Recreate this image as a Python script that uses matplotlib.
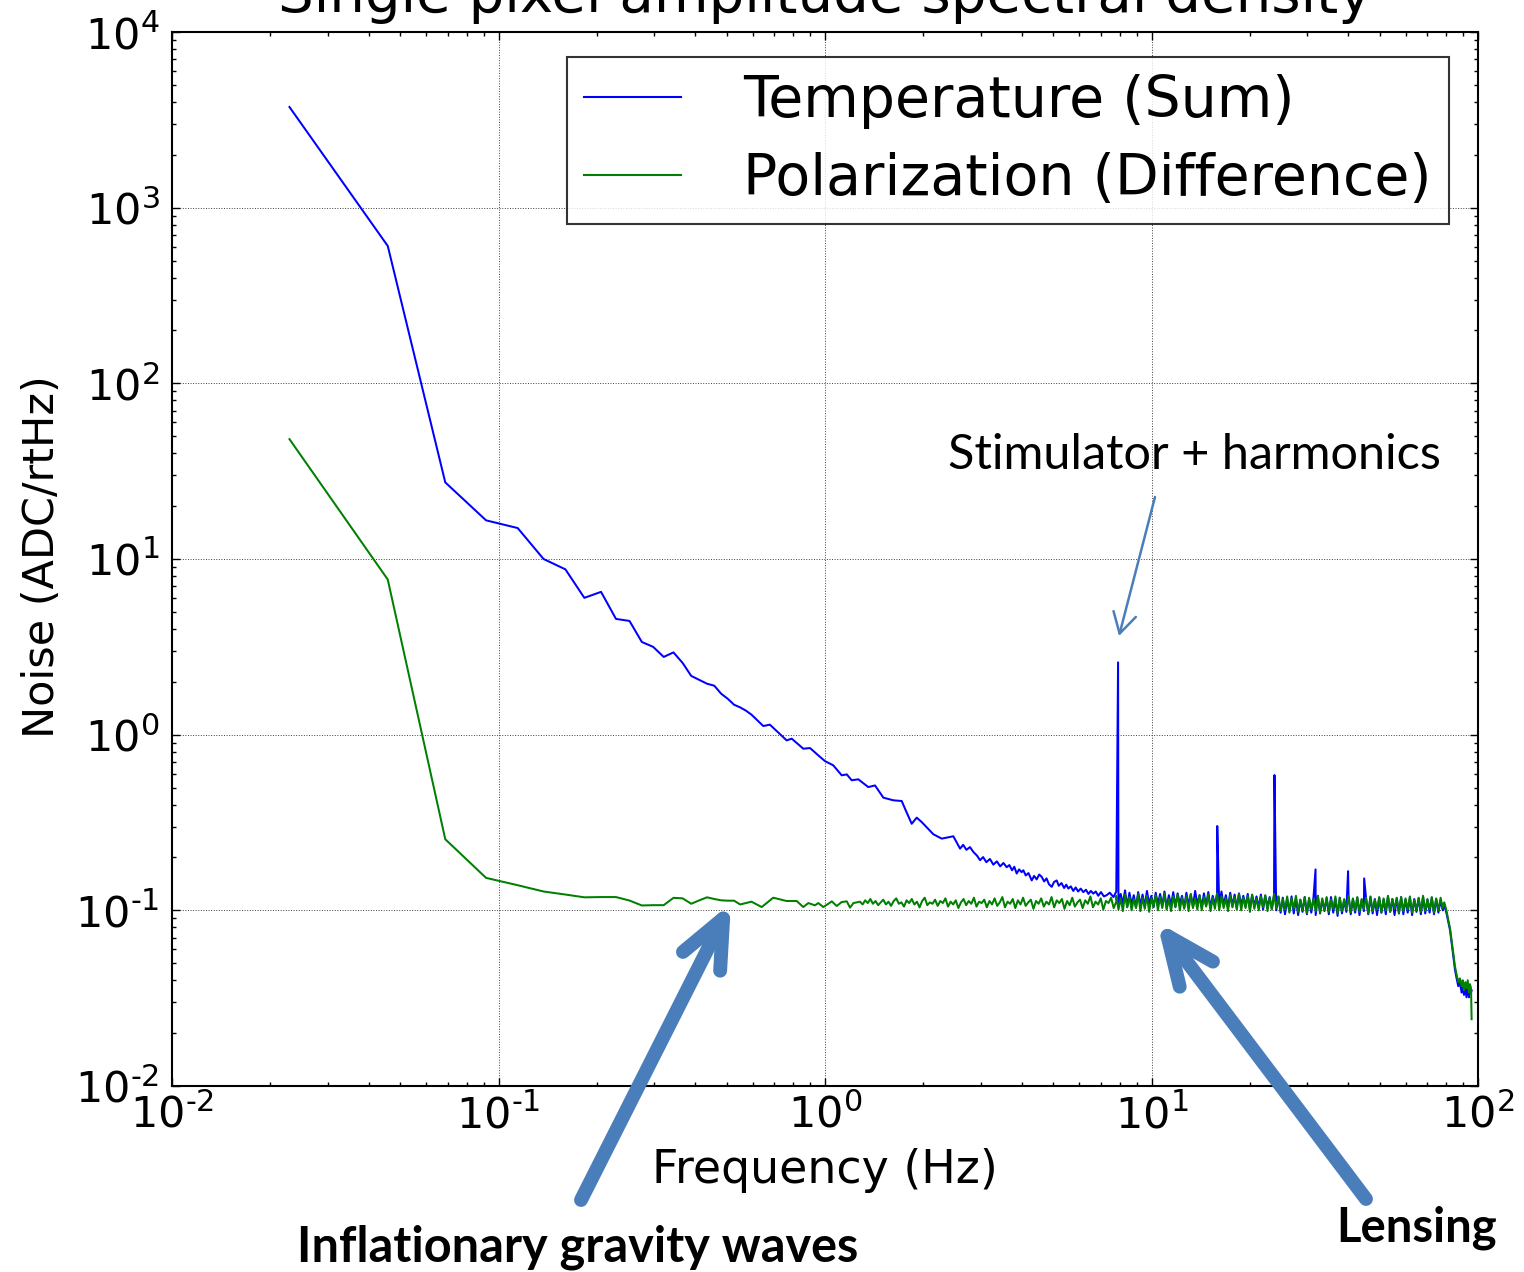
import numpy as np
import matplotlib
matplotlib.use("Agg")
import matplotlib.pyplot as plt
from matplotlib.ticker import LogLocator, FuncFormatter
from matplotlib.patches import FancyArrowPatch

plt.rcParams['axes.unicode_minus'] = False
plt.rcParams['font.family'] = ['DejaVu Sans']

# ---------------- data ----------------
low_freq = [0.0229, 0.0458, 0.0687, 0.0916, 0.1145, 0.1374, 0.1603, 0.1832, 0.2061, 0.229,
            0.2519, 0.2748, 0.2977, 0.3206, 0.3435, 0.3664, 0.3893, 0.4122, 0.4351, 0.458,
            0.4809, 0.5038, 0.5267, 0.5496, 0.5725, 0.5954]
temp_low = [3741, 605, 27.3, 16.6, 15.0, 10.0, 8.73, 6.01, 6.50, 4.56,
            4.44, 3.37, 3.16, 2.77, 2.94, 2.56, 2.16, 2.05, 1.95, 1.90,
            1.71, 1.60, 1.48, 1.43, 1.37, 1.30]
pol_low = [48.1, 7.64, 0.254, 0.153, 0.139, 0.128, 0.123, 0.1186, 0.119, 0.119,
           0.1137, 0.1066, 0.107, 0.107, 0.1178, 0.117, 0.109, 0.114, 0.1186, 0.116,
           0.114, 0.1135, 0.1135, 0.108, 0.110, 0.112]

temp_mid_freq = [0.647, 0.678, 0.763, 0.791, 0.858, 0.900, 0.954, 1.000, 1.060, 1.125,
                 1.166, 1.207, 1.265, 1.357, 1.423, 1.509, 1.619, 1.718, 1.758, 1.843,
                 1.910, 1.978, 2.147, 2.278, 2.472, 2.592, 2.65, 2.71, 2.78, 2.847,
                 2.92, 2.984, 3.05, 3.12, 3.20, 3.278, 3.36, 3.44, 3.52, 3.602,
                 3.67, 3.74, 3.80, 3.865, 3.93, 4.00, 4.05, 4.12, 4.20, 4.297,
                 4.37, 4.45, 4.53, 4.61, 4.69, 4.77, 4.85, 4.947, 5.03, 5.124,
                 5.20, 5.30, 5.40, 5.48, 5.564, 5.66, 5.76, 5.86, 5.96, 6.07,
                 6.182, 6.30, 6.41, 6.52, 6.633, 6.75, 6.87, 7.00, 7.15, 7.292,
                 7.45, 7.65]
temp_mid = [1.12, 1.14, 0.928, 0.949, 0.832, 0.839, 0.762, 0.707, 0.669, 0.587,
            0.594, 0.550, 0.557, 0.503, 0.514, 0.438, 0.423, 0.419, 0.379, 0.311,
            0.337, 0.318, 0.271, 0.256, 0.264, 0.2245, 0.236, 0.221, 0.229, 0.215,
            0.205, 0.193, 0.201, 0.188, 0.196, 0.182, 0.190, 0.178, 0.186, 0.176,
            0.181, 0.169, 0.177, 0.162, 0.171, 0.165, 0.169, 0.158, 0.163, 0.148,
            0.157, 0.150, 0.160, 0.155, 0.146, 0.152, 0.141, 0.136, 0.145, 0.148,
            0.138, 0.143, 0.134, 0.140, 0.133, 0.137, 0.129, 0.135, 0.128, 0.133,
            0.127, 0.131, 0.124, 0.129, 0.1245, 0.128, 0.121, 0.127, 0.120, 0.122,
            0.126, 0.119]

pol_mid_freq = [0.640, 0.694, 0.763, 0.819, 0.858, 0.889, 0.932, 0.954, 0.988, 1.024,
                1.049, 1.086, 1.125, 1.166, 1.193, 1.222]
pol_mid = [0.1044, 0.118, 0.113, 0.113, 0.1044, 0.110, 0.1068, 0.110, 0.1044, 0.109,
           0.1125, 0.1058, 0.1115, 0.1125, 0.1036, 0.110]

# polarization trace from 1.28 Hz to 7.8 Hz (evenly spaced on the log axis)
pol_mid2_range = (1.28, 7.8)
pol_mid2 = [0.112, 0.108, 0.114, 0.110, 0.116, 0.109, 0.113, 0.107, 0.111, 0.115,
            0.108, 0.112, 0.106, 0.113, 0.117, 0.109, 0.111, 0.105, 0.114, 0.110,
            0.116, 0.108, 0.112, 0.104, 0.113, 0.118, 0.107, 0.111, 0.109, 0.115,
            0.106, 0.113, 0.110, 0.117, 0.105, 0.112, 0.108, 0.114, 0.103, 0.111,
            0.116, 0.107, 0.113, 0.109, 0.118, 0.105, 0.112, 0.110, 0.115, 0.104,
            0.113, 0.108, 0.117, 0.106, 0.111, 0.119, 0.104, 0.112, 0.109, 0.116,
            0.103, 0.114, 0.108, 0.118, 0.106, 0.111, 0.115, 0.102, 0.113, 0.109,
            0.117, 0.105, 0.112, 0.108, 0.119, 0.104, 0.114, 0.110, 0.116, 0.102,
            0.113, 0.107, 0.118, 0.105, 0.111, 0.115, 0.103, 0.114, 0.109, 0.120,
            0.104, 0.112, 0.108, 0.117, 0.101, 0.113, 0.110, 0.118, 0.103, 0.112]

# dense white-noise band, 7.8 Hz to 78 Hz (evenly spaced on the log axis)
band_range = (7.8, 78.0)
pol_band = [0.121, 0.101, 0.117, 0.099, 0.123, 0.104, 0.119, 0.100, 0.116, 0.103,
            0.124, 0.099, 0.118, 0.102, 0.121, 0.098, 0.117, 0.105, 0.122, 0.100,
            0.119, 0.103, 0.125, 0.101, 0.116, 0.099, 0.120, 0.104, 0.123, 0.100,
            0.118, 0.102, 0.121, 0.099, 0.124, 0.103, 0.117, 0.101, 0.122, 0.100,
            0.119, 0.105, 0.123, 0.099, 0.118, 0.102, 0.125, 0.100, 0.120, 0.103,
            0.117, 0.099, 0.122, 0.104, 0.119, 0.101, 0.124, 0.100, 0.118, 0.103,
            0.121, 0.098, 0.123, 0.102, 0.117, 0.100, 0.120, 0.104, 0.122, 0.099,
            0.118, 0.101, 0.124, 0.103, 0.119,
            0.099, 0.116, 0.101, 0.120, 0.097, 0.117, 0.102, 0.121, 0.098, 0.115,
            0.100, 0.119, 0.096, 0.118, 0.101, 0.116, 0.099, 0.121, 0.097, 0.117,
            0.100, 0.119, 0.098, 0.115, 0.102, 0.120, 0.096, 0.118, 0.099, 0.116,
            0.101, 0.121, 0.097, 0.117, 0.100, 0.119, 0.098, 0.116, 0.102, 0.118,
            0.096, 0.120, 0.099, 0.115, 0.101, 0.119, 0.097, 0.117, 0.100, 0.121,
            0.098, 0.116, 0.102, 0.118, 0.096, 0.119, 0.099, 0.117, 0.101, 0.120,
            0.097, 0.115, 0.100, 0.118, 0.098, 0.121, 0.099, 0.116, 0.101, 0.119,
            0.097, 0.117, 0.100, 0.118, 0.103]
temp_band = [0.128, 0.106, 0.124, 0.109, 0.130, 0.105, 0.126, 0.108, 0.122, 0.104,
             0.127, 0.107, 0.123, 0.105, 0.129, 0.109, 0.121, 0.104, 0.126, 0.108,
             0.124, 0.106, 0.128, 0.103, 0.122, 0.107, 0.127, 0.105, 0.125, 0.109,
             0.121, 0.104, 0.126, 0.107, 0.123, 0.105, 0.129, 0.108, 0.122, 0.104,
             0.125, 0.106, 0.127, 0.103, 0.121, 0.108, 0.124, 0.105, 0.128, 0.107,
             0.122, 0.104, 0.126, 0.106, 0.123, 0.103, 0.125, 0.107, 0.121, 0.105,
             0.124, 0.102, 0.122, 0.106, 0.120, 0.104, 0.123, 0.101, 0.121, 0.105,
             0.119, 0.102, 0.122, 0.100, 0.120,
             0.097, 0.118, 0.095, 0.116, 0.099, 0.120, 0.096, 0.117, 0.094, 0.115,
             0.098, 0.119, 0.095, 0.116, 0.097, 0.118, 0.094, 0.121, 0.096, 0.115,
             0.099, 0.117, 0.095, 0.119, 0.097, 0.116, 0.093, 0.118, 0.096, 0.114,
             0.098, 0.120, 0.095, 0.116, 0.097, 0.118, 0.094, 0.115, 0.099, 0.117,
             0.095, 0.119, 0.096, 0.116, 0.094, 0.118, 0.097, 0.115, 0.095, 0.120,
             0.098, 0.116, 0.094, 0.117, 0.096, 0.119, 0.095, 0.115, 0.097, 0.118,
             0.094, 0.116, 0.098, 0.117, 0.095, 0.119, 0.096, 0.115, 0.097, 0.118,
             0.095, 0.116, 0.097, 0.114, 0.100]

# stimulator line and its harmonics (temperature only)
spike_freq = [7.9, 15.9, 23.8, 31.8, 40.0, 44.8]
spike_val = [2.58, 0.302, 0.589, 0.171, 0.167, 0.152]

# anti-aliasing roll-off near Nyquist
tail_freq = [78.8, 79.6, 80.3, 81.1, 82.1, 83.0, 83.8, 85.0, 86.0, 87.0,
             88.0, 89.1, 89.8, 90.6, 91.4, 92.2, 93.0, 93.8, 94.5, 95.2, 95.6]
pol_tail = [0.111, 0.104, 0.097, 0.088, 0.079, 0.068, 0.059, 0.048, 0.043, 0.039,
            0.041, 0.037, 0.040, 0.035, 0.039, 0.036, 0.040, 0.034, 0.038, 0.036, 0.024]
temp_tail = [0.108, 0.100, 0.094, 0.086, 0.077, 0.066, 0.057, 0.046, 0.041, 0.037,
             0.039, 0.034, 0.038, 0.033, 0.037, 0.032, 0.038, 0.032, 0.036, 0.034, 0.035]

# ---------------- assemble series ----------------
band_freq = np.geomspace(band_range[0], band_range[1], len(pol_band))
pol_mid2_freq = np.geomspace(pol_mid2_range[0], pol_mid2_range[1], len(pol_mid2))

hi_f = np.concatenate([band_freq, spike_freq])
hi_v = np.concatenate([temp_band, spike_val])
order = np.argsort(hi_f)
hi_f, hi_v = hi_f[order], hi_v[order]

temp_f = np.concatenate([low_freq, temp_mid_freq, hi_f, tail_freq])
temp_v = np.concatenate([temp_low, temp_mid, hi_v, temp_tail])
pol_f = np.concatenate([low_freq, pol_mid_freq, pol_mid2_freq, band_freq, tail_freq])
pol_v = np.concatenate([pol_low, pol_mid, pol_mid2, pol_band, pol_tail])

# ---------------- figure ----------------
W, H = 1524, 1272
fig = plt.figure(figsize=(W / 100, H / 100), dpi=100)
ax = fig.add_axes([172 / W, 1 - 1086 / H, 1306 / W, 1054 / H])

ax.plot(temp_f, temp_v, color='#0000ff', lw=1.45, label='Temperature (Sum)')
ax.plot(pol_f, pol_v, color='#008000', lw=1.45, label='Polarization (Difference)')

ax.set_xscale('log')
ax.set_yscale('log')
ax.set_xlim(1e-2, 1e2)
ax.set_ylim(1e-2, 1e4)
ax.xaxis.set_major_locator(LogLocator(base=10, numticks=10))
ax.yaxis.set_major_locator(LogLocator(base=10, numticks=10))
ax.xaxis.set_minor_locator(LogLocator(base=10, subs=np.arange(2, 10), numticks=40))
ax.yaxis.set_minor_locator(LogLocator(base=10, subs=np.arange(2, 10), numticks=40))


def pow_fmt(v, pos):
    e = int(round(np.log10(v)))
    if e < 0:
        return r'$\mathdefault{10^{\text{-}%d}}$' % (-e)
    return r'$\mathdefault{10^{%d}}$' % e


ax.xaxis.set_major_formatter(FuncFormatter(pow_fmt))
ax.yaxis.set_major_formatter(FuncFormatter(pow_fmt))

ax.grid(True, which='major', color='0.25', linestyle=':', linewidth=0.7)
ax.tick_params(which='both', direction='in', top=True, right=True, width=1.0)
ax.tick_params(which='major', length=6)
ax.tick_params(which='minor', length=3)
ax.tick_params(axis='x', which='major', labelsize=31, pad=6)
ax.tick_params(axis='y', which='major', labelsize=31, pad=9)
for s in ax.spines.values():
    s.set_linewidth(1.5)

ax.set_xlabel('Frequency (Hz)', fontsize=33)
ax.xaxis.set_label_coords(0.5, (1086 - 1183) / 1054)
ax.xaxis.label.set_va('baseline')
ax.set_ylabel('Noise (ADC/rtHz)', fontsize=31)
ax.yaxis.set_label_coords((54 - 172) / 1306, (1086 - 557) / 1054)
ax.yaxis.label.set_va('baseline')

ax.set_title('Single pixel amplitude spectral density', fontsize=40.5,
             y=(1086 - 12) / 1054, va='baseline', pad=0)

leg = ax.legend(loc='upper right', bbox_to_anchor=(1449 / W, 1 - 57 / H),
                bbox_transform=fig.transFigure, borderaxespad=0, fontsize=41,
                handlelength=1.7, handletextpad=1.1, borderpad=0.3,
                labelspacing=0.4, fancybox=False, frameon=True)
leg.get_frame().set_edgecolor('black')
leg.get_frame().set_linewidth(1.5)
for ln in leg.get_lines():
    ln.set_linewidth(1.5)

# ---------------- annotations ----------------
arrow_col = '#4a7ebb'


def fp(x, y):
    return (x / W, 1 - y / H)


fig.text(*fp(948, 469), 'Stimulator + harmonics', family='Lato', fontsize=35,
         ha='left', va='baseline')
fig.text(*fp(578, 1261), 'Inflationary gravity waves', family='Lato', fontweight='bold',
         fontsize=35, ha='center', va='baseline')
fig.text(*fp(1417, 1242), 'Lensing', family='Lato', fontweight='bold',
         fontsize=34, ha='center', va='baseline')


def arrow(tail, tip, lw, hl, hw):
    a = FancyArrowPatch(fp(*tail), fp(*tip), transform=fig.transFigure,
                        arrowstyle=f'->,head_length={hl},head_width={hw}',
                        mutation_scale=100, lw=lw, color=arrow_col,
                        shrinkA=0, shrinkB=0, capstyle='round', joinstyle='round')
    fig.add_artist(a)


arrow((1155, 497), (1119, 636), 1.8, 0.145, 0.083)
arrow((581, 1200), (731, 903), 10.0, 0.345, 0.15)
arrow((1366, 1199), (1157, 922), 10.0, 0.345, 0.15)

fig.savefig('out.png', dpi=100)
